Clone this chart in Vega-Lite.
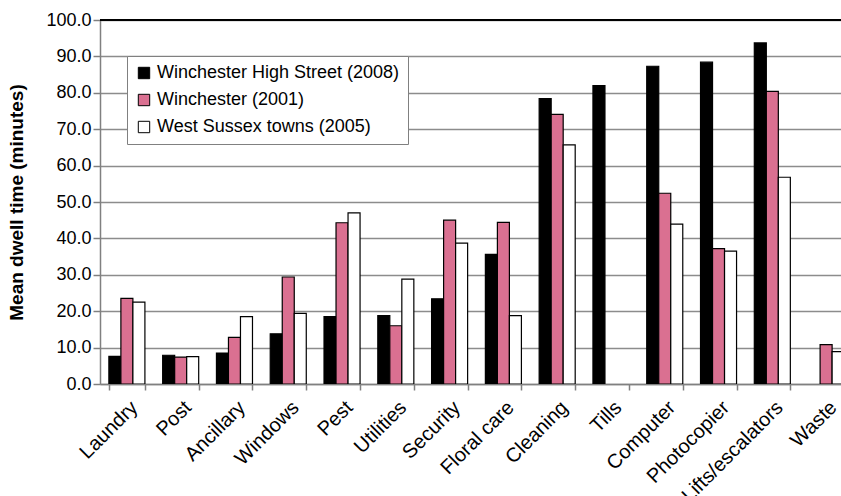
{
  "$schema": "https://vega.github.io/schema/vega-lite/v6.json",
  "width": 741,
  "height": 364,
  "autosize": {"type": "none"},
  "padding": {"left": 100, "top": 20, "right": 0, "bottom": 112},
  "config": {
    "font": "Liberation Sans",
    "view": {"stroke": null}
  },
  "data": {
    "values": [
      {"task": "Laundry", "series": "Winchester High Street (2008)", "value": 7.6},
      {"task": "Laundry", "series": "Winchester (2001)", "value": 23.5},
      {"task": "Laundry", "series": "West Sussex towns (2005)", "value": 22.5},
      {"task": "Post", "series": "Winchester High Street (2008)", "value": 7.9},
      {"task": "Post", "series": "Winchester (2001)", "value": 7.4},
      {"task": "Post", "series": "West Sussex towns (2005)", "value": 7.5},
      {"task": "Ancillary", "series": "Winchester High Street (2008)", "value": 8.5},
      {"task": "Ancillary", "series": "Winchester (2001)", "value": 12.8},
      {"task": "Ancillary", "series": "West Sussex towns (2005)", "value": 18.5},
      {"task": "Windows", "series": "Winchester High Street (2008)", "value": 13.8},
      {"task": "Windows", "series": "Winchester (2001)", "value": 29.4},
      {"task": "Windows", "series": "West Sussex towns (2005)", "value": 19.4},
      {"task": "Pest", "series": "Winchester High Street (2008)", "value": 18.5},
      {"task": "Pest", "series": "Winchester (2001)", "value": 44.3},
      {"task": "Pest", "series": "West Sussex towns (2005)", "value": 47.0},
      {"task": "Utilities", "series": "Winchester High Street (2008)", "value": 18.8},
      {"task": "Utilities", "series": "Winchester (2001)", "value": 16.0},
      {"task": "Utilities", "series": "West Sussex towns (2005)", "value": 28.8},
      {"task": "Security", "series": "Winchester High Street (2008)", "value": 23.4},
      {"task": "Security", "series": "Winchester (2001)", "value": 45.0},
      {"task": "Security", "series": "West Sussex towns (2005)", "value": 38.7},
      {"task": "Floral care", "series": "Winchester High Street (2008)", "value": 35.6},
      {"task": "Floral care", "series": "Winchester (2001)", "value": 44.4},
      {"task": "Floral care", "series": "West Sussex towns (2005)", "value": 18.8},
      {"task": "Cleaning", "series": "Winchester High Street (2008)", "value": 78.4},
      {"task": "Cleaning", "series": "Winchester (2001)", "value": 74.1},
      {"task": "Cleaning", "series": "West Sussex towns (2005)", "value": 65.7},
      {"task": "Tills", "series": "Winchester High Street (2008)", "value": 82.0},
      {"task": "Computer", "series": "Winchester High Street (2008)", "value": 87.3},
      {"task": "Computer", "series": "Winchester (2001)", "value": 52.4},
      {"task": "Computer", "series": "West Sussex towns (2005)", "value": 43.9},
      {"task": "Photocopier", "series": "Winchester High Street (2008)", "value": 88.4},
      {"task": "Photocopier", "series": "Winchester (2001)", "value": 37.2},
      {"task": "Photocopier", "series": "West Sussex towns (2005)", "value": 36.5},
      {"task": "Lifts/escalators", "series": "Winchester High Street (2008)", "value": 93.7},
      {"task": "Lifts/escalators", "series": "Winchester (2001)", "value": 80.4},
      {"task": "Lifts/escalators", "series": "West Sussex towns (2005)", "value": 56.8},
      {"task": "Waste", "series": "Winchester (2001)", "value": 10.8},
      {"task": "Waste", "series": "West Sussex towns (2005)", "value": 8.9}
    ]
  },
  "resolve": {"axis": {"y": "independent"}},
  "layer": [
    {
      "mark": {"type": "bar", "stroke": "black", "strokeWidth": 1.2, "clip": true},
      "encoding": {
        "x": {
          "field": "task",
          "type": "nominal",
          "sort": ["Laundry", "Post", "Ancillary", "Windows", "Pest", "Utilities", "Security", "Floral care", "Cleaning", "Tills", "Computer", "Photocopier", "Lifts/escalators", "Waste"],
          "scale": {"range": [0, 753], "paddingInner": 0.33, "paddingOuter": 0.165},
          "axis": {
            "title": null,
            "labelAngle": -45,
            "labelFontSize": 20,
            "labelColor": "black",
            "labelPadding": 7,
            "labelDx": -5,
            "labelOverlap": false,
            "tickBand": "extent",
            "tickColor": "#808080",
            "tickWidth": 1.5,
            "tickSize": 6,
            "domainColor": "#808080",
            "domainWidth": 1.5,
            "grid": false
          }
        },
        "xOffset": {
          "field": "series",
          "type": "nominal",
          "sort": ["Winchester High Street (2008)", "Winchester (2001)", "West Sussex towns (2005)"]
        },
        "y": {
          "field": "value",
          "type": "quantitative",
          "scale": {"domain": [0, 100], "nice": false},
          "axis": {
            "title": "Mean dwell time (minutes)",
            "titleFontSize": 19,
            "titleFontWeight": "bold",
            "titleColor": "black",
            "titlePadding": 19,
            "tickCount": 10,
            "tickMinStep": 10,
            "format": ".1f",
            "labelFontSize": 18,
            "labelColor": "black",
            "labelPadding": 2,
            "labelOverlap": false,
            "tickSize": 7,
            "tickColor": "#808080",
            "tickWidth": 1.5,
            "domainColor": "#808080",
            "domainWidth": 1.5,
            "gridColor": "#8c8c8c",
            "gridWidth": 1.5
          }
        },
        "fill": {
          "field": "series",
          "type": "nominal",
          "sort": ["Winchester High Street (2008)", "Winchester (2001)", "West Sussex towns (2005)"],
          "scale": {
            "domain": ["Winchester High Street (2008)", "Winchester (2001)", "West Sussex towns (2005)"],
            "range": ["#000000", "#da7091", "#ffffff"]
          },
          "legend": {
            "title": null,
            "orient": "none",
            "legendX": 27,
            "legendY": 36,
            "padding": 8,
            "strokeColor": "#808080",
            "fillColor": "white",
            "labelFontSize": 18,
            "labelColor": "black",
            "labelLimit": 400,
            "symbolType": "square",
            "symbolSize": 130,
            "symbolStrokeColor": "black",
            "symbolStrokeWidth": 1,
            "rowPadding": 9,
            "labelOffset": 4
          }
        }
      }
    },
    {
      "mark": {"type": "rule", "color": "black", "strokeWidth": 1.5},
      "encoding": {
        "y": {"datum": 100, "type": "quantitative", "axis": null}
      }
    }
  ]
}
